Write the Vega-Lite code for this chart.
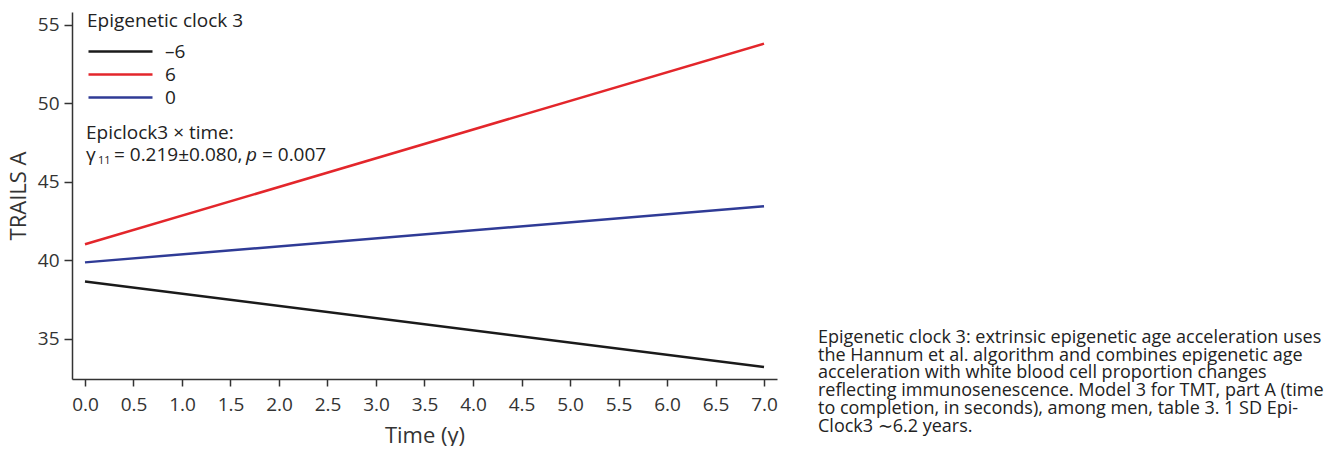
{
  "$schema": "https://vega.github.io/schema/vega-lite/v6.json",
  "padding": {"left": 7, "top": 12, "right": 5, "bottom": 0},
  "background": "white",
  "spacing": 40,
  "config": {
    "font": "Open Sans",
    "view": {"stroke": null},
    "axis": {
      "grid": false,
      "domainColor": "#333333",
      "domainWidth": 1.5,
      "tickColor": "#333333",
      "tickWidth": 1.5,
      "tickSize": 7,
      "labelFontSize": 19,
      "labelColor": "#333333",
      "titleFontSize": 22,
      "titleFontWeight": "normal",
      "titleColor": "#333333"
    }
  },
  "hconcat": [
    {
      "width": 705,
      "height": 367,
      "data": {
        "values": [
          {"time": 0, "trails": 38.66, "clock": "–6"},
          {"time": 7, "trails": 33.22, "clock": "–6"},
          {"time": 0, "trails": 41.02, "clock": "6"},
          {"time": 7, "trails": 53.79, "clock": "6"},
          {"time": 0, "trails": 39.87, "clock": "0"},
          {"time": 7, "trails": 43.44, "clock": "0"}
        ]
      },
      "layer": [
        {
          "mark": {"type": "line", "strokeWidth": 2.5},
          "encoding": {
            "x": {
              "field": "time",
              "type": "quantitative",
              "scale": {"domain": [-0.134, 7.134], "nice": false, "zero": false},
              "axis": {
                "values": [0, 0.5, 1, 1.5, 2, 2.5, 3, 3.5, 4, 4.5, 5, 5.5, 6, 6.5, 7],
                "format": ".1f",
                "title": "Time (y)",
                "labelPadding": 9,
                "titlePadding": 11
              }
            },
            "y": {
              "field": "trails",
              "type": "quantitative",
              "scale": {"domain": [32.45, 55.8], "nice": false, "zero": false},
              "axis": {
                "values": [35, 40, 45, 50, 55],
                "title": "TRAILS A",
                "tickSize": 8,
                "labelPadding": 5,
                "titlePadding": 7
              }
            },
            "color": {
              "field": "clock",
              "type": "nominal",
              "sort": ["–6", "6", "0"],
              "scale": {"domain": ["–6", "6", "0"], "range": ["#1a1a1a", "#e3262b", "#2f3b96"]},
              "legend": {
                "orient": "none",
                "legendX": 15,
                "legendY": 0,
                "title": "Epigenetic clock 3",
                "titleFontSize": 19,
                "titleFontWeight": "normal",
                "titleColor": "#222222",
                "titlePadding": 11,
                "labelFontSize": 19,
                "labelColor": "#222222",
                "labelOffset": 59,
                "symbolType": "M-1,0H7",
                "symbolSize": 256,
                "symbolStrokeWidth": 2.5,
                "rowPadding": 3
              }
            }
          }
        },
        {
          "data": {"values": [{}]},
          "mark": {"type": "text", "align": "left", "baseline": "middle", "fontSize": 19, "color": "#222222"},
          "encoding": {
            "x": {"datum": 0.01, "type": "quantitative"},
            "y": {"datum": 48.12, "type": "quantitative"},
            "text": {"value": "Epiclock3 × time:"}
          }
        },
        {
          "data": {"values": [{}]},
          "mark": {"type": "text", "align": "left", "baseline": "middle", "fontSize": 19, "color": "#222222"},
          "encoding": {
            "x": {"datum": 0.01, "type": "quantitative"},
            "y": {"datum": 46.72, "type": "quantitative"},
            "text": {"value": "γ"}
          }
        },
        {
          "data": {"values": [{}]},
          "mark": {"type": "text", "align": "left", "baseline": "middle", "fontSize": 11, "dx": 12, "dy": 6, "color": "#222222"},
          "encoding": {
            "x": {"datum": 0.01, "type": "quantitative"},
            "y": {"datum": 46.72, "type": "quantitative"},
            "text": {"value": "11"}
          }
        },
        {
          "data": {"values": [{}]},
          "mark": {"type": "text", "align": "left", "baseline": "middle", "fontSize": 19, "dx": 28, "color": "#222222"},
          "encoding": {
            "x": {"datum": 0.01, "type": "quantitative"},
            "y": {"datum": 46.72, "type": "quantitative"},
            "text": {"value": "= 0.219±0.080,"}
          }
        },
        {
          "data": {"values": [{}]},
          "mark": {"type": "text", "align": "left", "baseline": "middle", "fontSize": 19, "fontStyle": "italic", "dx": 160, "color": "#222222"},
          "encoding": {
            "x": {"datum": 0.01, "type": "quantitative"},
            "y": {"datum": 46.72, "type": "quantitative"},
            "text": {"value": "p"}
          }
        },
        {
          "data": {"values": [{}]},
          "mark": {"type": "text", "align": "left", "baseline": "middle", "fontSize": 19, "dx": 176, "color": "#222222"},
          "encoding": {
            "x": {"datum": 0.01, "type": "quantitative"},
            "y": {"datum": 46.72, "type": "quantitative"},
            "text": {"value": "= 0.007"}
          }
        }
      ]
    },
    {
      "width": 512,
      "height": 367,
      "data": {
        "values": [
          {
            "caption": [
              "Epigenetic clock 3: extrinsic epigenetic age acceleration uses",
              "the Hannum et al. algorithm and combines epigenetic age",
              "acceleration with white blood cell proportion changes",
              "reflecting immunosenescence. Model 3 for TMT, part A (time",
              "to completion, in seconds), among men, table 3. 1 SD Epi-",
              "Clock3 ∼6.2 years."
            ]
          }
        ]
      },
      "mark": {"type": "text", "align": "left", "baseline": "alphabetic", "fontSize": 18, "lineHeight": 17.7, "color": "#222222"},
      "encoding": {
        "x": {"datum": 0, "type": "quantitative", "scale": {"domain": [0, 1]}, "axis": null},
        "y": {"datum": 0.098, "type": "quantitative", "scale": {"domain": [0, 1]}, "axis": null},
        "text": {"field": "caption", "type": "nominal"}
      }
    }
  ]
}
